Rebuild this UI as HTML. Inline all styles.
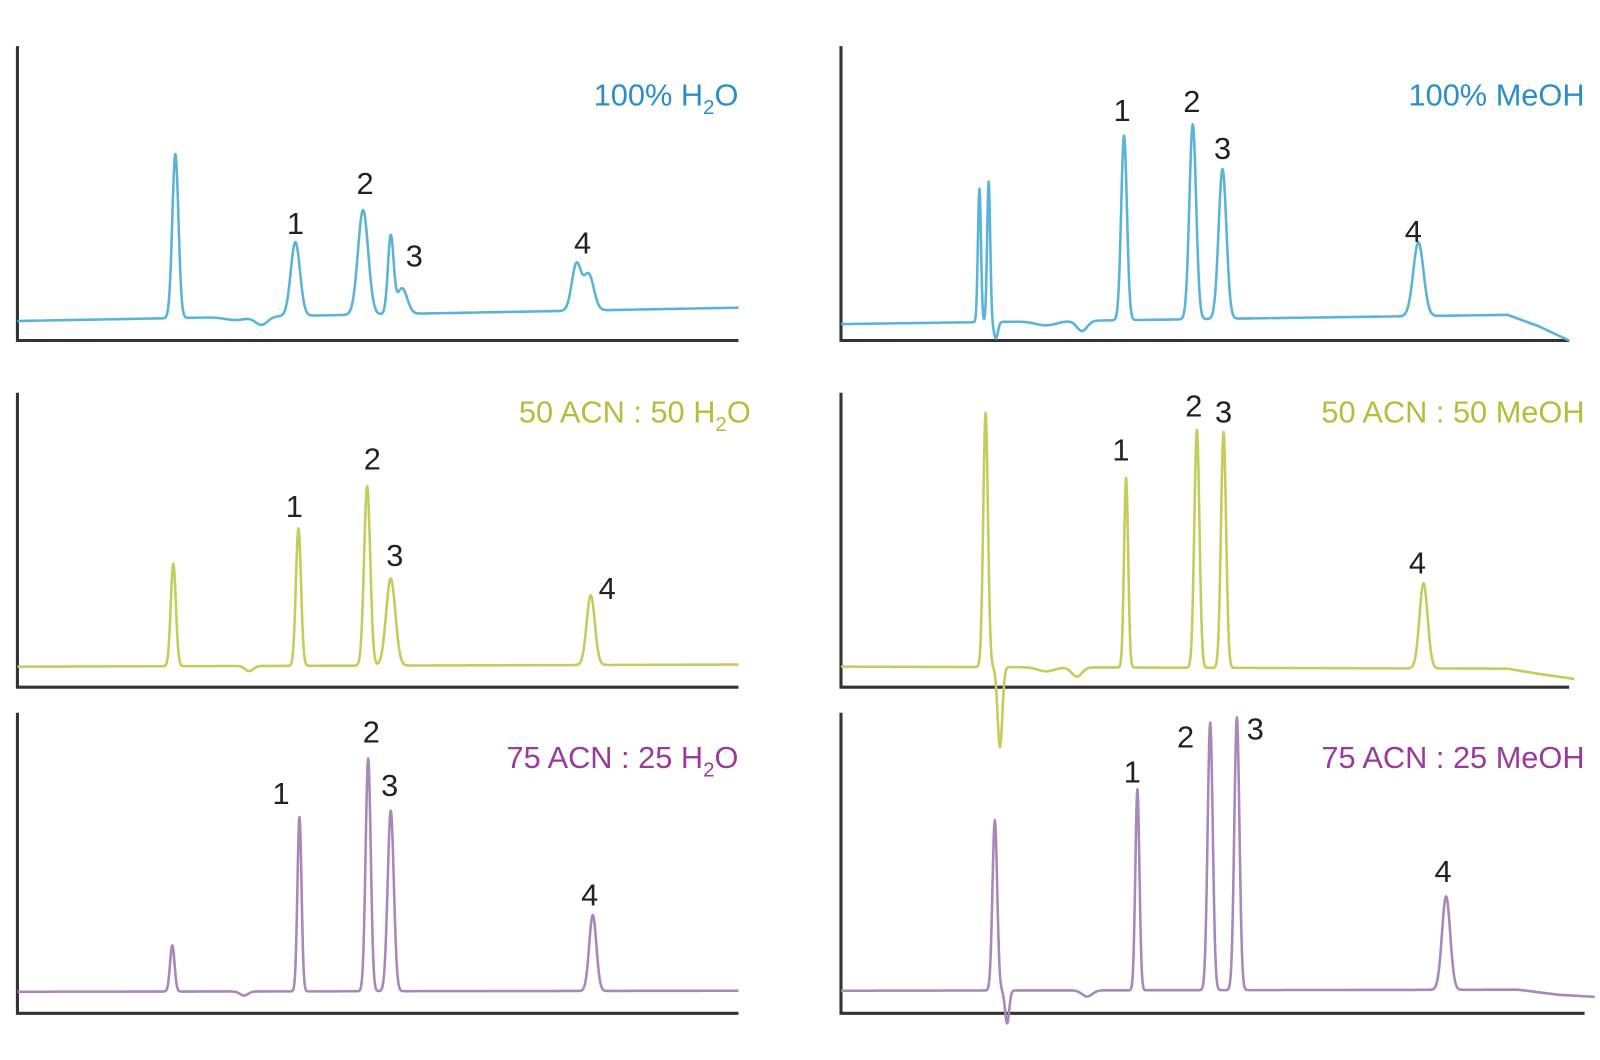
<!DOCTYPE html>
<html><head><meta charset="utf-8"><style>
html,body{margin:0;padding:0;background:#fff;}
svg{display:block}
text{font-family:"Liberation Sans","DejaVu Sans",sans-serif;}
.n{font-size:30px;fill:#222;text-anchor:middle}
.t{font-size:30px;text-anchor:end}
</style></head><body>
<svg id="s" width="1600" height="1060" viewBox="0 0 1600 1060" xmlns="http://www.w3.org/2000/svg">
<g transform="scale(1.0256)">
<g stroke="#333" stroke-width="3" fill="none">
<polyline points="17,45 17,332 720,332"/>
<polyline points="17,383 17,670 720,670"/>
<polyline points="17,695 17,988 720,988"/>
<polyline points="820,45 820,332 1530,332"/>
<polyline points="820,383 820,670 1530,670"/>
<polyline points="820,695 820,988 1545,988"/>
</g>
<g id="tr" fill="none" stroke-width="2.5" stroke-linejoin="round"></g>
<g class="n">
<text x="288" y="228">1</text><text x="356" y="189">2</text><text x="404" y="260">3</text><text x="568" y="247">4</text>
<text x="1094" y="118">1</text><text x="1162" y="109">2</text><text x="1192" y="155">3</text><text x="1378" y="236">4</text>
<text x="287" y="504">1</text><text x="363" y="458">2</text><text x="385" y="552">3</text><text x="592" y="584">4</text>
<text x="1093" y="449">1</text><text x="1164" y="406">2</text><text x="1193" y="412">3</text><text x="1382" y="559">4</text>
<text x="274" y="784">1</text><text x="362" y="724">2</text><text x="380" y="776">3</text><text x="575" y="883">4</text>
<text x="1104" y="763">1</text><text x="1156" y="729">2</text><text x="1224" y="721">3</text><text x="1407" y="860">4</text>
</g>
<text class="t" x="720" y="103" fill="#2a8fc8">100% H<tspan font-size="20" dy="8">2</tspan><tspan dy="-8">O</tspan></text>
<text class="t" x="1545" y="103" fill="#2a8fc8">100% MeOH</text>
<text class="t" x="732" y="412" fill="#b5be3a">50 ACN : 50 H<tspan font-size="20" dy="8">2</tspan><tspan dy="-8">O</tspan></text>
<text class="t" x="1545" y="412" fill="#b5be3a">50 ACN : 50 MeOH</text>
<text class="t" x="720" y="749" fill="#9a3a9a">75 ACN : 25 H<tspan font-size="20" dy="8">2</tspan><tspan dy="-8">O</tspan></text>
<text class="t" x="1545" y="749" fill="#9a3a9a">75 ACN : 25 MeOH</text>
</g>
</svg>
<script>
var T=[
 {c:"#5ab4d8",x0:17,x1:720,b0:313,b1:300,p:[[171,160,3],[288,72,4.5],[354,102,5],[381,75,2.8],[392,25,5],[562,45,4.5],[574,35,5],[255,-8,6],[230,-3,10]]},
 {c:"#5ab4d8",x0:820,x1:1470,b0:316,b1:307,p:[[955,130,1.5],[964,137,1.5],[971,-16,2],[1096,180,2.8],[1163,190,3.3],[1192,146,3.8],[1383,72,5],[1055,-10,5],[1020,-4,10]],tail:[[1500,318],[1530,332]]},
 {c:"#c4cc5a",x0:17,x1:720,b0:650,b1:648,p:[[169,100,2.5],[291,134,2.5],[358,175,3],[381,85,4.5],[576,68,4],[243,-5,4]]},
 {c:"#c4cc5a",x0:820,x1:1470,b0:650,b1:652,p:[[961,248,2.3],[975,-78,2.3],[1098,185,2],[1167,232,2.5],[1193,230,2.5],[1388,83,4],[1050,-9,5],[1020,-4,8]],tail:[[1500,657],[1535,662]]},
 {c:"#a888b8",x0:17,x1:720,b0:967,b1:966,p:[[168,45,2.2],[292,170,2],[359,227,2.5],[381,176,3],[578,74,3.5],[238,-4,4]]},
 {c:"#a888b8",x0:820,x1:1480,b0:966,b1:965,p:[[970,166,2.3],[982,-32,2],[1109,196,2],[1180,261,2.5],[1206,266,2.5],[1410,91,4],[1060,-6,5]],tail:[[1520,970],[1555,972]]}
];
var g=document.getElementById("tr"),ns="http://www.w3.org/2000/svg";
T.forEach(function(t){var pts=[];for(var x=t.x0;x<=t.x1;x+=0.5){var b=t.b0+(t.b1-t.b0)*(x-t.x0)/(t.x1-t.x0);var y=b;t.p.forEach(function(p){var d=(x-p[0])/p[2];y-=p[1]*Math.exp(-d*d/2);});pts.push(x.toFixed(1)+","+y.toFixed(1));}
 if(t.tail)t.tail.forEach(function(q){pts.push(q[0]+","+q[1]);});
 var pl=document.createElementNS(ns,"polyline");pl.setAttribute("points",pts.join(" "));pl.setAttribute("stroke",t.c);g.appendChild(pl);});
</script>
</body></html>
